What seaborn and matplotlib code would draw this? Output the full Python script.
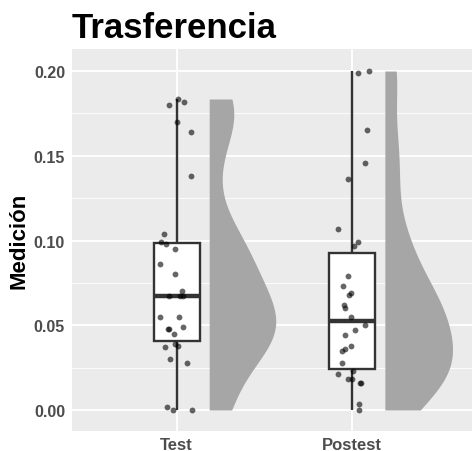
import numpy as np
import pandas as pd
import seaborn as sns
import matplotlib.pyplot as plt
from matplotlib.ticker import MultipleLocator, FormatStrFormatter

# values
grupos = ["Test", "Postest"]
test_vals = [0.1835, 0.182, 0.180, 0.170, 0.164, 0.138, 0.104, 0.098, 0.099, 0.095,
             0.086, 0.080, 0.070, 0.067, 0.067, 0.067, 0.055, 0.055, 0.048, 0.045,
             0.048, 0.049, 0.039, 0.037, 0.038, 0.028, 0.030, 0.002, 0.0, 0.0]
postest_vals = [0.200, 0.199, 0.165, 0.146, 0.1365, 0.107, 0.099, 0.097, 0.079, 0.073,
                0.068, 0.069, 0.062, 0.060, 0.055, 0.050, 0.047, 0.044, 0.036, 0.038,
                0.035, 0.028, 0.023, 0.021, 0.018, 0.018, 0.016, 0.016, 0.0035, 0.0]

df = pd.DataFrame({
    "grupo": ["Test"] * len(test_vals) + ["Postest"] * len(postest_vals),
    "valor": test_vals + postest_vals,
})

sns.set_theme(style="darkgrid")
plt.rcParams["font.family"] = ["Liberation Sans", "DejaVu Sans"]

fig = plt.figure(figsize=(4.72, 4.52), dpi=100)
ax = fig.add_axes([72 / 472, 1 - 432 / 452, 400 / 472, 382 / 452])
ax.set_facecolor("#EBEBEB")

# half violin (raincloud), shifted to the right of the box
sns.violinplot(data=df, x="grupo", y="valor", order=grupos, inner=None, cut=0,
               bw_method=0.36, width=0.77, color="#A6A6A6", saturation=1,
               linewidth=0, ax=ax)
offset = 0.185
for i, coll in enumerate(ax.collections):
    new_verts = []
    for p in coll.get_paths():
        v = p.vertices.copy()
        v[:, 0] = np.maximum(v[:, 0], i) + offset
        new_verts.append(v)
    coll.set_verts(new_verts)
    coll.set_zorder(1)

sns.boxplot(data=df, x="grupo", y="valor", order=grupos, width=0.263,
            whis=(0, 100), showcaps=False, showfliers=False, color="white",
            linecolor="#333333", linewidth=1.7, medianprops={"linewidth": 3.2},
            saturation=1, zorder=2, ax=ax)

np.random.seed(3)
sns.stripplot(data=df, x="grupo", y="valor", order=grupos, jitter=0.1,
              color="black", alpha=0.6, size=4.2, linewidth=0, zorder=3, ax=ax)

ax.set_xlim(-0.596, 1.681)
ax.set_ylim(-0.0124, 0.213)
ax.yaxis.set_major_locator(MultipleLocator(0.05))
ax.yaxis.set_minor_locator(MultipleLocator(0.025))
ax.yaxis.set_major_formatter(FormatStrFormatter("%.2f"))
ax.grid(which="major", color="white", linewidth=1.3)
ax.grid(which="minor", axis="y", color="white", linewidth=0.6)
ax.set_axisbelow(True)
for s in ax.spines.values():
    s.set_visible(False)

ax.tick_params(axis="both", which="major", length=3, color="#333333", width=0.8,
               pad=2, labelcolor="#4D4D4D")
ax.tick_params(axis="x", which="major", pad=1.5)
ax.tick_params(axis="y", which="minor", length=0)
for lab in ax.get_yticklabels():
    lab.set_fontsize(11.5)
    lab.set_fontweight("bold")
for lab in ax.get_xticklabels():
    lab.set_fontsize(12)
    lab.set_fontweight("bold")

ax.set_xlabel("")
ax.set_ylabel("Medición", fontsize=16, fontweight="bold", color="black", labelpad=3)
ax.set_title("Trasferencia", fontsize=25, fontweight="bold", loc="left", pad=9,
             color="black")

fig.savefig("out.png", dpi=100)
